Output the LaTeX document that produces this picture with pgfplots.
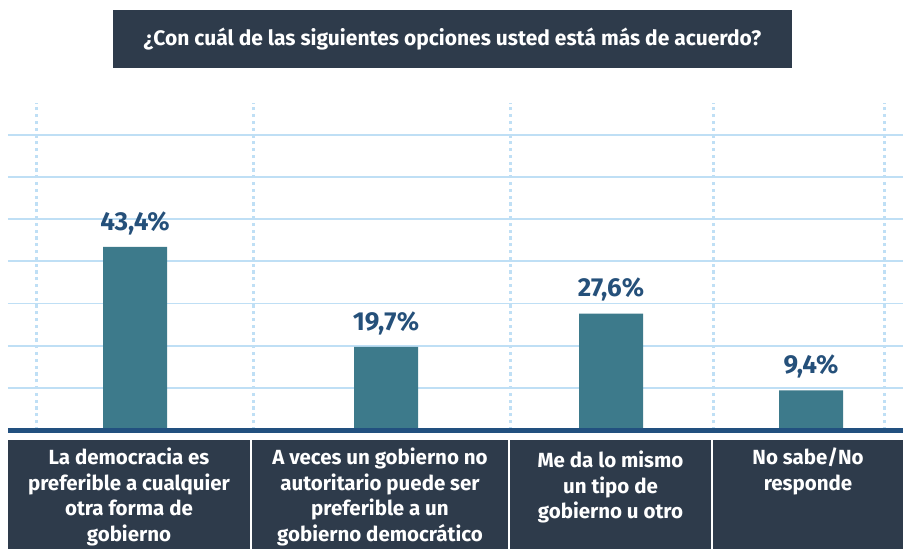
\documentclass[border=0pt]{standalone}
\usepackage{pgfplots}
\pgfplotsset{compat=1.18}
\usepackage{fontspec}
\setmainfont{Fira Sans}
\definecolor{boxc}{HTML}{2E3B4B}
\definecolor{barc}{HTML}{3D7A8B}
\definecolor{labc}{HTML}{25507A}
\definecolor{gridc}{HTML}{BFDFF5}
\definecolor{basec}{HTML}{22507F}
\begin{document}
\begin{tikzpicture}[x=1pt,y=1pt]
\useasboundingbox (0,0) rectangle (903,-549);
\fill[boxc] (113,-10) rectangle (792,-68);
\node[white,font=\bfseries\fontsize{21}{24}\selectfont] at (452.5,-39) {¿Con cuál de las siguientes opciones usted está más de acuerdo?};
\begin{axis}[
  at={(8pt,-430pt)}, anchor=south west,
  scale only axis, width=895pt, height=327pt,
  xmin=8, xmax=903, ymin=0, ymax=77.5,
  clip=false,
  axis line style={draw=none},
  xtick={36,253,510,713,884}, ytick={10,20,...,70},
  xticklabels={}, yticklabels={}, major tick length=0pt,
  xmajorgrids, ymajorgrids,
  x grid style={gridc, line width=3pt, dash pattern=on 3.2pt off 3.6pt},
  y grid style={gridc, line width=1.8pt},
  ybar, bar width=64,
  nodes near coords={\pgfmathprintnumber[fixed,fixed zerofill,precision=1,use comma,assume math mode=true]{\pgfplotspointmeta}\%},
  every node near coord/.append style={labc, font=\bfseries\fontsize{26}{30}\selectfont, inner sep=0pt, anchor=south, yshift=12pt},
]
\addplot[fill=barc, draw=none] coordinates {(135,43.4) (386,19.7) (611,27.6) (811,9.4)};
\draw[basec, line width=5pt] (axis cs:8,0) -- (axis cs:903,0);
\end{axis}
\fill[boxc] (8,-440) rectangle (250,-549);
\fill[boxc] (252,-440) rectangle (508,-549);
\fill[boxc] (510,-440) rectangle (711,-549);
\fill[boxc] (713,-440) rectangle (903,-549);
\begin{scope}[every node/.style={white, font=\bfseries\fontsize{20.5}{25.5}\selectfont, align=center, anchor=north, inner sep=0pt}]
\node at (129,-448) {La democracia es\\preferible a cualquier\\otra forma de\\gobierno};
\node at (380,-448) {A veces un gobierno no\\autoritario puede ser\\preferible a un\\gobierno democrático};
\node at (610.5,-451) {Me da lo mismo\\un tipo de\\gobierno u otro};
\node at (808,-448) {No sabe/No\\responde};
\end{scope}
\end{tikzpicture}
\end{document}
